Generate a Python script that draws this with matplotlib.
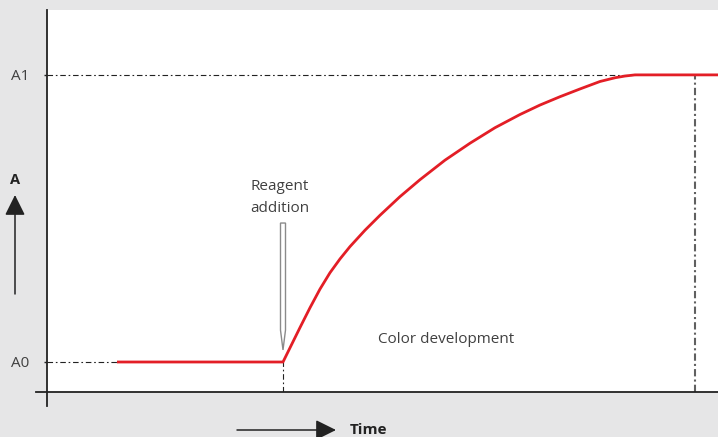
import matplotlib

matplotlib.use("Agg")
import matplotlib.pyplot as plt
from matplotlib.lines import Line2D
from matplotlib.patches import FancyArrowPatch, Polygon

BG = "#e6e6e7"
INK = "#222222"
TXT = "#404040"
RED = "#e31e26"
GRAY = "#8a8a8a"

# absorbance trace (time in arbitrary units, A scaled 0 = A0, 1 = A1)
time = [7.0, 23.6, 25.3, 26.3, 27.3, 28.3, 29.3, 30.3, 31.8, 33.3, 35.3, 37.3, 39.8, 42.3, 44.8, 47.3, 49.3,
        51.3, 53.3, 55.3, 56.8, 57.8, 58.8, 67.1]
absorb = [0.0, 0.0, 0.120, 0.189, 0.254, 0.311, 0.359, 0.402, 0.459, 0.511, 0.576, 0.635, 0.703, 0.762, 0.816,
          0.862, 0.895, 0.924, 0.951, 0.977, 0.990, 0.996, 1.0, 1.0]
levels = [0.0, 1.0]
level_labels = ["A0", "A1"]
t_reagent = 23.6
t_plateau = 58.8
t_end = 64.8
t_max = 67.1

plt.rcParams["font.family"] = ["Open Sans", "DejaVu Sans"]

fig = plt.figure(figsize=(7.18, 4.37), dpi=100)
fig.patch.set_facecolor(BG)
ax = fig.add_axes([47 / 718, 45 / 437, 671 / 718, 382 / 437])
ax.set_facecolor("white")
for s in ax.spines.values():
    s.set_visible(False)
ax.set_xlim(0, t_max)
ax.set_ylim(-0.1045, 1.226)
ax.set_xticks([])
ax.set_yticks(levels, level_labels)
ax.tick_params(axis="y", length=2.5, width=1, color=INK, pad=10, labelsize=11, labelcolor=TXT)

dd = dict(color=INK, lw=0.8, dashes=(5, 2.5, 1.5, 2.5))
ax.plot([0, time[0]], [levels[0]] * 2, **dd)
ax.plot([0, t_plateau], [levels[1]] * 2, **dd)
ax.plot([t_reagent, t_reagent], [ax.get_ylim()[0], levels[0]], **dd)
ax.plot([t_end, t_end], [ax.get_ylim()[0], levels[1]], color="#606060", lw=1.5, dashes=(3.5, 1.5, 1, 1.5))

ax.plot(time, absorb, color=RED, lw=2.0, solid_capstyle="butt", solid_joinstyle="round", zorder=3)

# hollow reagent pointer
w = 0.25
ax.add_patch(Polygon([(t_reagent - w, 0.484), (t_reagent + w, 0.484), (t_reagent + w, 0.111),
                      (t_reagent, 0.042), (t_reagent - w, 0.111)], closed=True,
                     facecolor="white", edgecolor=GRAY, lw=1.0, zorder=2))
ax.text(t_reagent - 0.3, 0.573, "Reagent\naddition", ha="center", va="center", fontsize=11, color=TXT,
        linespacing=1.6)
ax.text(39.9, 0.08, "Color development", ha="center", va="center", fontsize=11, color=TXT)

# axis lines drawn in figure pixels so they overhang like the original
px = lambda x, y: (x / 718, 1 - y / 437)
fig.add_artist(Line2D([47 / 718] * 2, [1 - 10 / 437, 1 - 406 / 437], color=INK, lw=1.3))
fig.add_artist(Line2D([36 / 718, 1], [1 - 392 / 437] * 2, color=INK, lw=1.3))

arrow = dict(arrowstyle="-|>,head_length=1.25,head_width=0.62", mutation_scale=10, color=INK, lw=1.1,
             shrinkA=0, shrinkB=0)
fig.add_artist(FancyArrowPatch(px(15, 294), px(15, 195), transform=fig.transFigure, **arrow))
fig.add_artist(FancyArrowPatch(px(237, 430), px(336, 430), transform=fig.transFigure, **arrow))
fig.text(*px(15, 180), "A", ha="center", va="center", fontsize=10.5, fontweight="bold", color=INK)
fig.text(*px(350, 430), "Time", ha="left", va="center", fontsize=11, fontweight="bold", color=INK)

fig.savefig("out.png", dpi=100, facecolor=BG)
